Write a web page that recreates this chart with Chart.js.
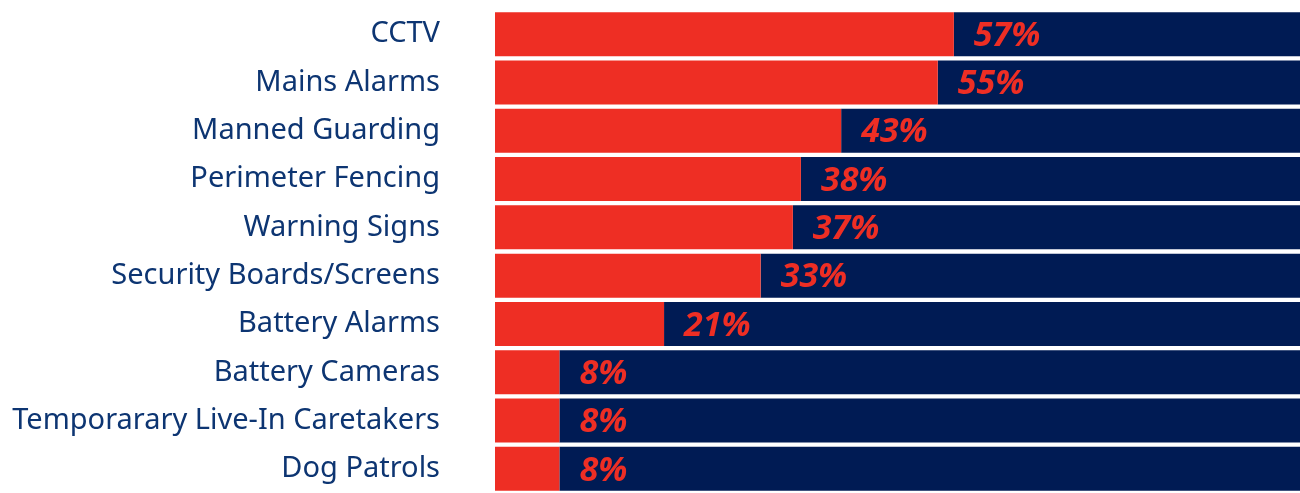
<!DOCTYPE html>
<html>
<head>
<meta charset="utf-8">
<script src="https://cdn.jsdelivr.net/npm/chart.js@4"></script>
<style>
  html, body { margin: 0; padding: 0; background: #fff; overflow: hidden; }
  canvas { display: block; }
</style>
</head>
<body>
<canvas id="myChart" width="1300" height="493"></canvas>
<script>
const categories = ['CCTV', 'Mains Alarms', 'Manned Guarding', 'Perimeter Fencing', 'Warning Signs',
    'Security Boards/Screens', 'Battery Alarms', 'Battery Cameras', 'Temporarary Live-In Caretakers', 'Dog Patrols']
const valores = [57, 55, 43, 38, 37, 33, 21, 8, 8, 8]
const resto = valores.map(v => 100 - v)

const vermelho = '#EE2E24'
const azul = '#001B54'

// escreve o percentual logo depois da parte vermelha
const rotulos = {
    id: 'rotulos',
    afterDatasetsDraw(chart) {
        const ctx = chart.ctx
        const meta = chart.getDatasetMeta(0)
        ctx.save()
        ctx.fillStyle = vermelho
        ctx.font = 'italic bold 34px "Noto Sans"'
        ctx.textAlign = 'left'
        ctx.textBaseline = 'middle'
        meta.data.forEach((bar, i) => {
            ctx.fillText(valores[i] + '%', bar.x + 20, bar.y + 2)
        })
        ctx.restore()
    }
}

const ctx = document.getElementById('myChart')

const data = {
    labels: categories,
    datasets: [{
        data: valores,
        backgroundColor: vermelho,
        barPercentage: 0.91,
        categoryPercentage: 1
    }, {
        data: resto,
        backgroundColor: azul,
        barPercentage: 0.91,
        categoryPercentage: 1
    }]
}

const config = {
    type: 'bar',
    data: data,
    options: {
        indexAxis: 'y',
        responsive: false,
        animation: false,
        layout: { padding: { top: 10, bottom: 0, left: 0, right: 0 } },
        plugins: {
            legend: { display: false },
            tooltip: { enabled: false }
        },
        scales: {
            x: {
                stacked: true,
                min: 0,
                max: 100,
                display: false
            },
            y: {
                stacked: true,
                grid: { display: false, drawTicks: false },
                border: { display: false },
                afterFit(scale) {
                    scale.width = 495
                    // o padding dos ticks nao deve empurrar a area do grafico
                    scale.paddingTop = 0
                    scale.paddingBottom = 0
                },
                ticks: {
                    padding: 55,
                    color: '#0D3572',
                    font: { family: '"Noto Sans"', size: 29 }
                }
            }
        }
    },
    plugins: [rotulos]
}

new Chart(ctx, config)
</script>
</body>
</html>
